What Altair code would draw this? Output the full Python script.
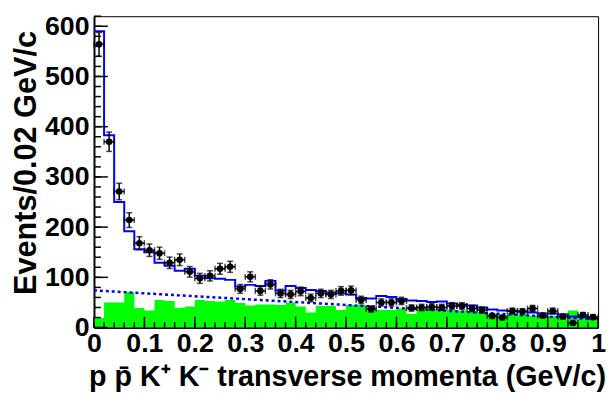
import altair as alt
import numpy as np
import pandas as pd

# ---------------- data ----------------
bin_width = 0.02
data_counts = [564, 370, 271, 214, 168, 154, 148, 129, 135, 111,
               98, 103, 117, 121, 77, 101, 73, 86, 68, 66,
               72, 59, 68, 66, 73, 74, 55, 37, 50, 50,
               53, 39, 40, 41, 40, 43, 43, 38, 35, 23,
               20, 33, 32, 38, 24, 33, 22, 9, 25, 21]
fit_total = [590, 383, 250, 192, 156, 150, 129, 123, 113, 117,
             103, 98, 97, 95, 82, 85, 83, 93, 74, 83,
             79, 75, 73, 70, 68, 66, 59, 58, 63, 61,
             57, 54, 53, 51, 52, 48, 46, 44, 40, 36,
             34, 33, 32, 30, 28, 28, 26, 22, 21, 18]
background_mc = [19, 50, 50, 71, 39, 34, 55, 53, 39, 42,
                 55, 53, 52, 55, 49, 44, 46, 46, 45, 50,
                 42, 30, 43, 43, 35, 45, 45, 38, 35, 35,
                 38, 27, 38, 37, 32, 35, 34, 32, 30, 28,
                 25, 27, 26, 24, 24, 23, 22, 34, 21, 18]
bkg_line_x = [0.0, 1.0]
bkg_line_y = [74, 16]
x_major = [0, 0.1, 0.2, 0.3, 0.4, 0.5, 0.6, 0.7, 0.8, 0.9, 1.0]
y_major = [0, 100, 200, 300, 400, 500, 600]

# ---------------- tables ----------------
n = len(data_counts)
edges = np.round(np.arange(n + 1) * bin_width, 4)
centers = np.round(edges[:-1] + bin_width / 2, 4)

steps = pd.DataFrame({
    "x": edges,
    "fit": fit_total + [fit_total[-1]],
    "bkg": background_mc + [background_mc[-1]],
})
pts = pd.DataFrame({"x": centers, "v": data_counts})
pts["err"] = np.sqrt(pts["v"])
pts["lo"] = pts["v"] - pts["err"]
pts["hi"] = pts["v"] + pts["err"]
pts["xl"] = pts["x"] - bin_width / 2
pts["xr"] = pts["x"] + bin_width / 2
line_df = pd.DataFrame({"x": bkg_line_x, "y": bkg_line_y})

x_minor = pd.DataFrame({"t": np.round(np.arange(0, 1.0001, 0.02), 4)})
x_maj = pd.DataFrame({"t": x_major})
y_minor = pd.DataFrame({"t": np.arange(0, 621, 20)})
y_maj = pd.DataFrame({"t": y_major})

W, H = 510, 315
xs = alt.Scale(domain=[0, 1], nice=False, zero=False)
ys = alt.Scale(domain=[0, 620], nice=False, zero=True)
FONT = "Liberation Sans"

x_axis = alt.Axis(
    values=x_major, format=".1~f", ticks=False, grid=False,
    domainColor="black", domainWidth=2,
    labelFont=FONT, labelFontSize=27, labelFontWeight="bold", labelColor="black",
    labelPadding=3, labelOverlap=False, labelFlush=False, labelBound=False,
    title="p p\u0304 K\u207a K\u207b transverse momenta  (GeV/c)",
    titleFont=FONT, titleFontSize=29, titleFontWeight="bold", titleColor="black",
    titleX=256, titleY=59, titleBaseline="alphabetic", titleAlign="center",
)
y_axis = alt.Axis(
    values=y_major, ticks=False, grid=False,
    domainColor="black", domainWidth=2,
    labelFont=FONT, labelFontSize=27, labelFontWeight="bold", labelColor="black",
    labelPadding=5, labelOverlap=False, labelFlush=False, labelBound=False,
    title="Events/0.02 GeV/c",
    titleFont=FONT, titleFontSize=31, titleFontWeight="bold", titleColor="black",
    titleX=-59, titleY=148, titleBaseline="alphabetic", titleAlign="center", titleAngle=-90,
)


def X(field):
    return alt.X(field, scale=xs, axis=x_axis)


def Y(field):
    return alt.Y(field, scale=ys, axis=y_axis)


green = alt.Chart(steps).mark_area(interpolate="step-after", color="#00ff00").encode(
    x=X("x:Q"), y=Y("bkg:Q"))
dotted = alt.Chart(line_df).mark_line(color="#0000ff", strokeWidth=2.5, strokeDash=[3, 3]).encode(
    x=X("x:Q"), y=Y("y:Q"))
fit = alt.Chart(steps).mark_line(interpolate="step-after", color="#0000ff", strokeWidth=2).encode(
    x=X("x:Q"), y=Y("fit:Q"))
vbar = alt.Chart(pts).mark_rule(color="black", strokeWidth=1.5).encode(
    x=X("x:Q"), y=Y("lo:Q"), y2="hi:Q")
hbar = alt.Chart(pts).mark_rule(color="black", strokeWidth=1.5).encode(
    x=X("xl:Q"), x2="xr:Q", y=Y("v:Q"))
cap_lo = alt.Chart(pts).mark_tick(color="black", orient="horizontal", size=6, thickness=1.5).encode(
    x=X("x:Q"), y=Y("lo:Q"))
cap_hi = alt.Chart(pts).mark_tick(color="black", orient="horizontal", size=6, thickness=1.5).encode(
    x=X("x:Q"), y=Y("hi:Q"))
cap_l = alt.Chart(pts).mark_tick(color="black", orient="vertical", size=6, thickness=1.5).encode(
    x=X("xl:Q"), y=Y("v:Q"))
cap_r = alt.Chart(pts).mark_tick(color="black", orient="vertical", size=6, thickness=1.5).encode(
    x=X("xr:Q"), y=Y("v:Q"))
dots = alt.Chart(pts).mark_circle(color="black", size=45, opacity=1).encode(
    x=X("x:Q"), y=Y("v:Q"))

xt_min = alt.Chart(x_minor).mark_rule(color="black", strokeWidth=1.5).encode(
    x=X("t:Q"), y=alt.value(H), y2=alt.value(H - 5.5))
xt_maj = alt.Chart(x_maj).mark_rule(color="black", strokeWidth=1.5).encode(
    x=X("t:Q"), y=alt.value(H), y2=alt.value(H - 11))
yt_min = alt.Chart(y_minor).mark_rule(color="black", strokeWidth=1.5).encode(
    y=Y("t:Q"), x=alt.value(0), x2=alt.value(7))
yt_maj = alt.Chart(y_maj).mark_rule(color="black", strokeWidth=1.5).encode(
    y=Y("t:Q"), x=alt.value(0), x2=alt.value(14))

chart = alt.layer(
    green, dotted, fit, vbar, hbar, cap_lo, cap_hi, cap_l, cap_r, dots,
    xt_min, xt_maj, yt_min, yt_maj,
).properties(
    width=W, height=H,
    autosize=alt.AutoSizeParams(type="none"),
    padding={"left": 87, "top": 6, "right": 8, "bottom": 74},
    background="white",
).configure_view(stroke="black", strokeWidth=1)

chart.save("out.html", embed_options={"renderer": "svg", "actions": False})
